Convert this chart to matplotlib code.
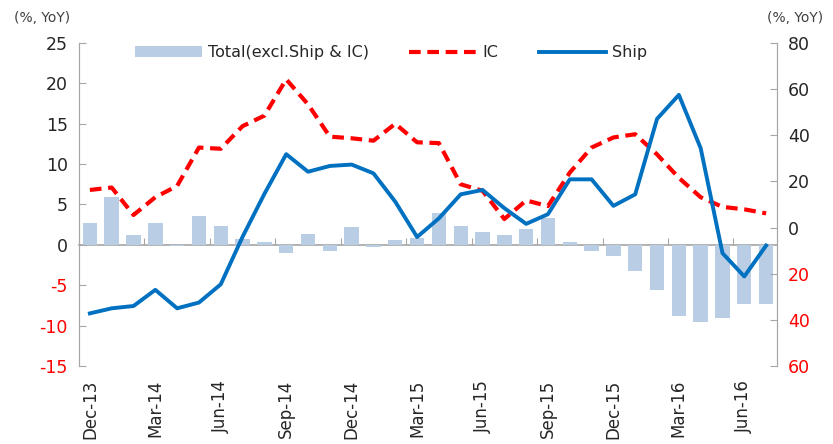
import numpy as np
import matplotlib
matplotlib.use("Agg")
import matplotlib.pyplot as plt
from matplotlib.patches import Patch
from matplotlib.lines import Line2D

# month labels (Dec-13 .. Jul-16), labelled every 3 months
months = ["Dec-13", "Jan-14", "Feb-14", "Mar-14", "Apr-14", "May-14", "Jun-14",
          "Jul-14", "Aug-14", "Sep-14", "Oct-14", "Nov-14", "Dec-14", "Jan-15",
          "Feb-15", "Mar-15", "Apr-15", "May-15", "Jun-15", "Jul-15", "Aug-15",
          "Sep-15", "Oct-15", "Nov-15", "Dec-15", "Jan-16", "Feb-16", "Mar-16",
          "Apr-16", "May-16", "Jun-16", "Jul-16"]

# Total (excl. Ship & IC), left axis
total = [2.7, 5.9, 1.2, 2.7, -0.2, 3.55, 2.3, 0.7, 0.4, -1.0, 1.4, -0.75,
         2.2, -0.3, 0.6, 0.9, 4.0, 2.35, 1.65, 1.25, 2.0, 3.3, 0.35, -0.8,
         -1.35, -3.2, -5.6, -8.8, -9.6, -9.1, -7.35, -7.35]

# IC, left axis
ic = [6.8, 7.1, 3.7, 5.9, 7.3, 12.05, 11.9, 14.7, 16.0, 20.5, 17.4, 13.4,
      13.2, 12.9, 15.0, 12.7, 12.6, 7.5, 6.7, 3.2, 5.5, 4.8, 8.95, 12.05,
      13.3, 13.7, 11.2, 8.3, 5.9, 4.7, 4.4, 3.9]

# Ship, right axis
ship = [-37.2, -35.0, -34.0, -27.0, -35.0, -32.5, -24.6, -4.0, 14.6, 31.8,
        24.2, 26.7, 27.3, 23.5, 11.2, -4.1, 4.0, 14.4, 16.3, 8.4, 1.6, 5.8,
        20.9, 20.9, 9.4, 14.4, 47.1, 57.5, 34.4, -11.1, -21.2, -7.8]

RED = "#ff0000"
BLUE = "#0070c0"
BAR = "#b9cde5"
GRAY = "#a6a6a6"
TXT = "#262626"

plt.rcParams["font.family"] = ["DejaVu Sans"]
plt.rcParams["axes.unicode_minus"] = False

fig = plt.figure(figsize=(8.33, 4.44), dpi=100)
ax = fig.add_axes([0.0948, 0.1757, 0.838, 0.7275])
ax2 = ax.twinx()

x = np.arange(len(months))
ax.bar(x, total, width=0.66, color=BAR, zorder=2)
ax.plot(x, ic, color=RED, lw=3.0, dashes=(2.8, 1.6), zorder=3)
ax2.plot(x, ship, color=BLUE, lw=2.8, zorder=3)

ax.set_xlim(-0.5, len(months) - 0.5)
ax.set_ylim(-15, 25)
ax2.set_ylim(-60, 80)
ax.set_yticks(np.arange(-15, 26, 5))
ax2.set_yticks(np.arange(-60, 81, 20))
ax2.set_yticklabels([f"{abs(v):g}" for v in np.arange(-60, 81, 20)])

for a in (ax, ax2):
    a.spines["top"].set_visible(False)
    a.spines["bottom"].set_visible(False)
    a.spines["left"].set_color(GRAY)
    a.spines["right"].set_color(GRAY)
ax.tick_params(axis="y", direction="in", length=5, color=GRAY,
               labelsize=12.5, pad=8)
ax2.tick_params(axis="y", direction="in", length=5, color=GRAY,
                labelsize=12.5, pad=8)

for lbl, v in zip(ax.get_yticklabels(), np.arange(-15, 26, 5)):
    lbl.set_color(RED if v < 0 else TXT)
for lbl, v in zip(ax2.get_yticklabels(), np.arange(-60, 81, 20)):
    lbl.set_color(RED if v < 0 else TXT)

# category labels at the bottom
ax.set_xticks(x[::3])
ax.set_xticklabels(months[::3], rotation=90)
ax.tick_params(axis="x", length=0, labelsize=12, pad=10, labelcolor=TXT)

# category axis drawn at zero
sec = ax.secondary_xaxis(15 / 40)
sec.set_xticks(np.arange(2.5, len(months), 3))
sec.set_xticklabels([])
sec.tick_params(direction="in", length=5, color=GRAY)
sec.spines["bottom"].set_color(GRAY)
sec.spines["bottom"].set_linewidth(1.2)

fig.text(0.051, 0.95, "(%, YoY)", fontsize=10, color="#404040", ha="center")
fig.text(0.954, 0.95, "(%, YoY)", fontsize=10, color="#404040", ha="center")

handles = [Patch(facecolor=BAR, edgecolor="none"),
           Line2D([], [], color=RED, lw=3.0, dashes=(2.8, 1.6)),
           Line2D([], [], color=BLUE, lw=2.8)]
leg = ax2.legend(handles, ["Total(excl.Ship & IC)", "IC", "Ship"],
                 loc="center", bbox_to_anchor=(0.447, 0.97), ncol=3,
                 frameon=False, fontsize=11.5, handlelength=4.2,
                 handleheight=0.6, handletextpad=0.4, columnspacing=2.5)
for t in leg.get_texts():
    t.set_color(TXT)

fig.savefig("out.png", dpi=100)
